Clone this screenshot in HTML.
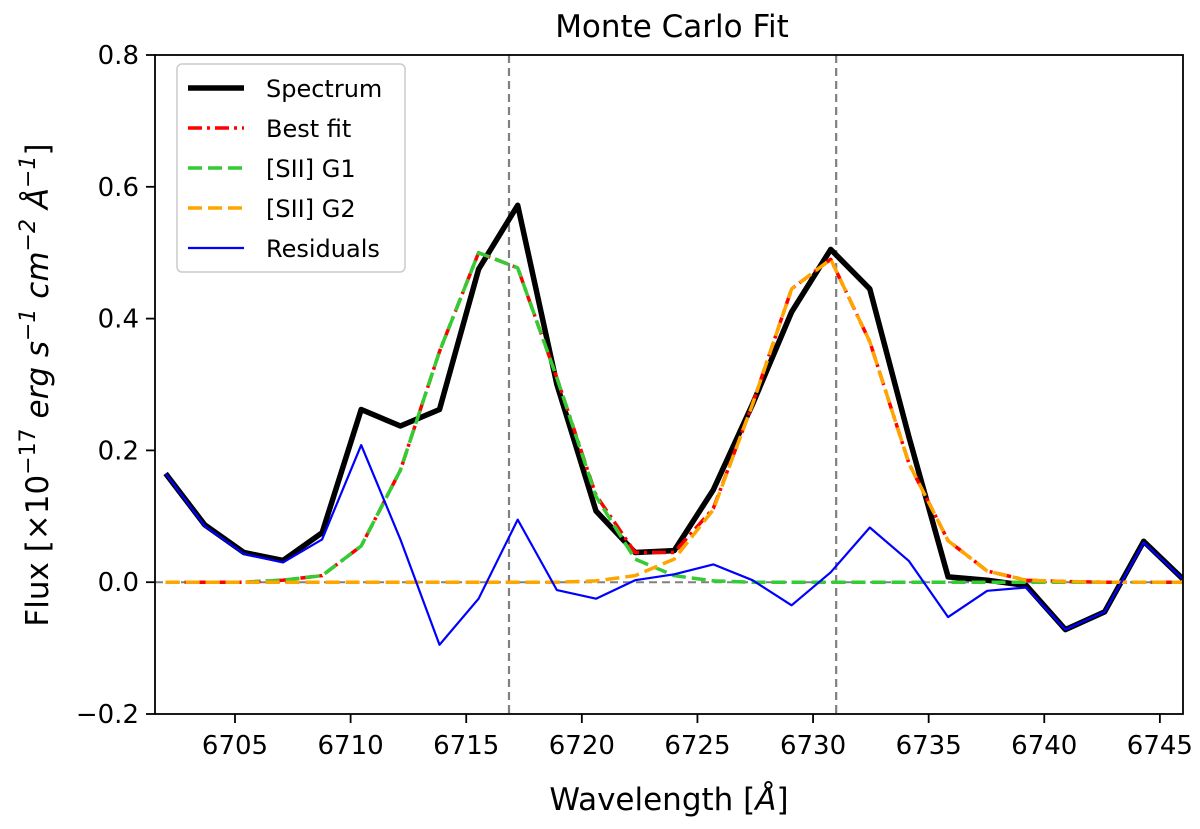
<!DOCTYPE html>
<html><head><meta charset="utf-8"><style>
body{margin:0;background:#fff}
svg{font-family:"DejaVu Sans","Liberation Sans",sans-serif}
</style></head><body>
<svg id="c" width="1200" height="824" xmlns="http://www.w3.org/2000/svg"></svg>
<script>
const spectrum=[0.165,0.087,0.045,0.033,0.075,0.262,0.237,0.262,0.475,0.572,0.30,0.108,0.045,0.048,0.14,0.27,0.41,0.505,0.445,0.22,0.008,0.003,-0.005,-0.072,-0.045,0.062,0.005];
const residuals=[0.165,0.085,0.043,0.03,0.065,0.208,0.065,-0.095,-0.025,0.095,-0.012,-0.025,0.003,0.012,0.027,0.003,-0.035,0.015,0.083,0.032,-0.053,-0.013,-0.008,-0.072,-0.045,0.06,0.005];
const g1=[0,0,0,0.003,0.01,0.055,0.17,0.35,0.5,0.477,0.31,0.13,0.035,0.01,0.002,0,0,0,0,0,0,0,0,0,0,0,0];
const g2=[0,0,0,0,0,0,0,0,0,0,0,0.002,0.01,0.035,0.11,0.27,0.445,0.49,0.365,0.18,0.063,0.017,0.003,0.001,0,0,0];
const wlStart=6702.0, wlStep=1.692;
const xTicks=[6705,6710,6715,6720,6725,6730,6735,6740,6745];
const yTicks=[-0.2,0.0,0.2,0.4,0.6,0.8];
const vlines=[6716.85,6731.0];
const X0=155,X1=1183,Y0=55,Y1=714,xmin=6701.54,xmax=6746.0,ymin=-0.2,ymax=0.8;
const sx=v=>X0+(v-xmin)/(xmax-xmin)*(X1-X0);
const sy=v=>Y1-(v-ymin)/(ymax-ymin)*(Y1-Y0);
const svg=document.getElementById('c');
const NS='http://www.w3.org/2000/svg';
function mk(t,a,p){const e=document.createElementNS(NS,t);for(const k in a)e.setAttribute(k,a[k]);(p||svg).appendChild(e);return e;}
const defs=mk('defs',{});const cp=mk('clipPath',{id:'cp'},defs);mk('rect',{x:X0,y:Y0,width:X1-X0,height:Y1-Y0},cp);
const g=mk('g',{'clip-path':'url(#cp)'});
function line(vals,attrs,name){const d=vals.map((v,i)=>(i?'L':'M')+sx(wlStart+i*wlStep).toFixed(1)+','+sy(v).toFixed(1)).join('');const p=mk('path',Object.assign({d:d,fill:'none','stroke-linejoin':'round'},attrs),g);

return p;}
const z=mk('line',{x1:X0,x2:X1,y1:sy(0),y2:sy(0),stroke:'#808080','stroke-width':2,'stroke-dasharray':'8,5'},g);


vlines.forEach(v=>{const l=mk('line',{x1:sx(v),x2:sx(v),y1:Y0,y2:Y1,stroke:'#808080','stroke-width':2.2,'stroke-dasharray':'8,5'},g);

});
line(spectrum,{stroke:'#000','stroke-width':5.5},'spectrum-line');
line(spectrum.map((v,i)=>g1[i]+g2[i]),{stroke:'#ff0000','stroke-width':3.5,'stroke-dasharray':'14,5,3,5'},'best-fit-line');
line(g1,{stroke:'#33cc33','stroke-width':3.5,'stroke-dasharray':'14,6'},'sii-g1-line');
line(g2,{stroke:'#ffa500','stroke-width':3.5,'stroke-dasharray':'14,6'},'sii-g2-line');
line(residuals,{stroke:'#0000ff','stroke-width':2.2},'residuals-line');
const fr=mk('rect',{x:X0,y:Y0,width:X1-X0,height:Y1-Y0,fill:'none',stroke:'#000','stroke-width':1.8});


xTicks.forEach(t=>{const x=sx(t);mk('line',{x1:x,x2:x,y1:Y1,y2:Y1+9,stroke:'#000','stroke-width':1.8});
const tx=mk('text',{x:x,y:Y1+40,'font-size':26,'text-anchor':'middle'});tx.textContent=t;

});
yTicks.forEach(t=>{const y=sy(t);mk('line',{x1:X0-9,x2:X0,y1:y,y2:y,stroke:'#000','stroke-width':1.8});
const tx=mk('text',{x:X0-16,y:y+9,'font-size':26,'text-anchor':'end'});tx.textContent=(t<0?'\u2212':'')+Math.abs(t).toFixed(1);

});
</script>
<svg style="position:absolute;left:0;top:0" width="1200" height="824" xmlns="http://www.w3.org/2000/svg">
<text x="672" y="37" font-size="31" text-anchor="middle" font-family="DejaVu Sans,sans-serif">Monte Carlo Fit</text>
<text x="669" y="810" font-size="31" text-anchor="middle" font-family="DejaVu Sans,sans-serif">Wavelength [<tspan font-style="italic">Å</tspan>]</text>
<text transform="translate(48,385) rotate(-90)" font-size="31" text-anchor="middle" font-family="DejaVu Sans,sans-serif">Flux [×10<tspan dy="-13" font-size="22">−17</tspan><tspan dy="13" font-style="italic"> erg s</tspan><tspan dy="-13" font-size="22" font-style="italic">−1</tspan><tspan dy="13" font-style="italic"> cm</tspan><tspan dy="-13" font-size="22" font-style="italic">−2</tspan><tspan dy="13" font-style="italic"> Å</tspan><tspan dy="-13" font-size="22" font-style="italic">−1</tspan><tspan dy="13">]</tspan></text>
<g font-family="DejaVu Sans,sans-serif" font-size="24">
<rect x="177" y="64" width="228" height="208" rx="5" fill="#fff" fill-opacity="0.85" stroke="#ccc" stroke-width="1.5"/>
<line x1="188" x2="244" y1="88" y2="88" stroke="#000" stroke-width="5.5"/><text x="266" y="97">Spectrum</text>
<line x1="188" x2="244" y1="128" y2="128" stroke="#f00" stroke-width="3.5" stroke-dasharray="14,5,3,5"/><text x="266" y="137">Best fit</text>
<line x1="188" x2="244" y1="168" y2="168" stroke="#33cc33" stroke-width="3.5" stroke-dasharray="14,6"/><text x="266" y="177">[SII] G1</text>
<line x1="188" x2="244" y1="208" y2="208" stroke="#ffa500" stroke-width="3.5" stroke-dasharray="14,6"/><text x="266" y="217">[SII] G2</text>
<line x1="188" x2="244" y1="248" y2="248" stroke="#00f" stroke-width="2.2"/><text x="266" y="257">Residuals</text>
</g>
</svg>
</body></html>
